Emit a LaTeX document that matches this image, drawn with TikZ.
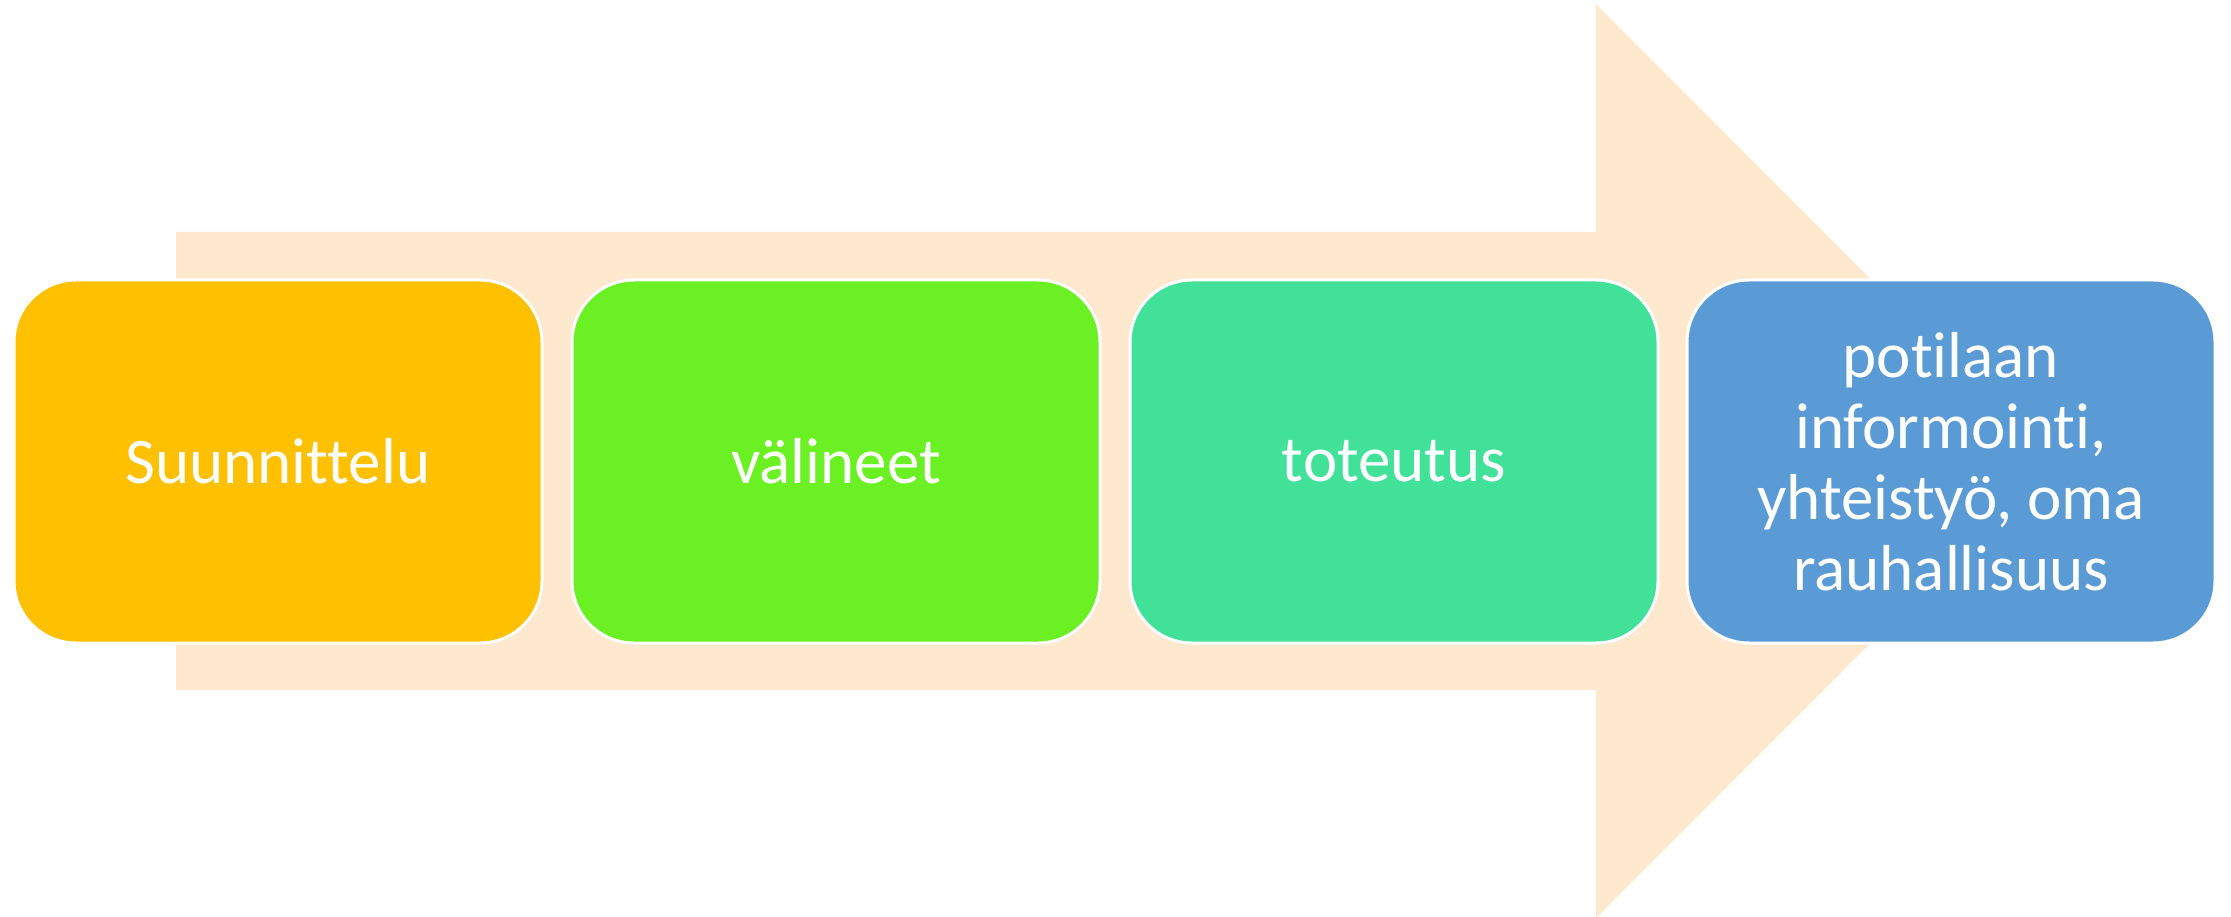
\documentclass[tikz,border=0pt]{standalone}
\usepackage{fontspec}
\setmainfont{Carlito}[Ligatures={NoCommon,NoContextual}]
\definecolor{arrowc}{HTML}{FEE8CE}
\definecolor{c1}{HTML}{FFC000}
\definecolor{c2}{HTML}{6AF023}
\definecolor{c3}{HTML}{42E19A}
\definecolor{c4}{HTML}{5B9BD5}
\begin{document}
\begin{tikzpicture}[x=1pt,y=-1pt,
  stepbox/.style={draw=white,line width=3pt,rounded corners=62pt,minimum width=528pt,minimum height=363pt,
    text=white,align=center,font=\fontsize{65}{71}\selectfont,inner sep=0pt}]
\useasboundingbox (0,0) rectangle (2231,917);
\fill[arrowc] (176,232) -- (1596,232) -- (1596,4) -- (2052,461) -- (1596,918) -- (1596,690) -- (176,690) -- cycle;
\node[stepbox,fill=c1] (a) at (278,461.5) {Suunnittelu};
\node[stepbox,fill=c2] (b) at (836,461.5) {välineet};
\node[stepbox,fill=c3] (c) at (1394,461.5) {toteutus};
\node[stepbox,fill=c4] (d) at (1951,461.5) {potilaan\\informointi,\\yhteistyö, oma\\rauhallisuus};
\end{tikzpicture}
\end{document}
